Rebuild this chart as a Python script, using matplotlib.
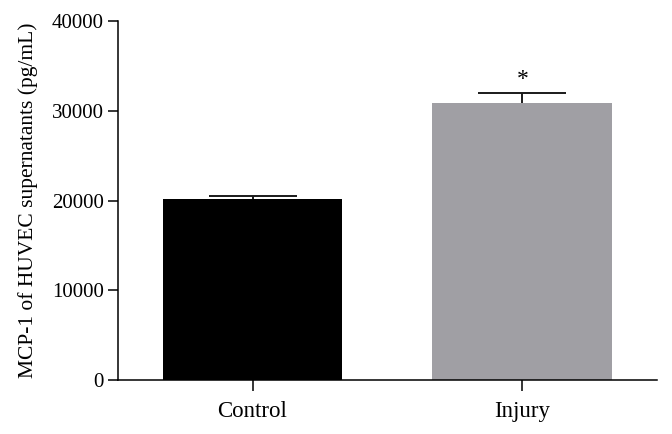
import numpy as np
import matplotlib
matplotlib.use('Agg')
import matplotlib.pyplot as plt

# data
groups = ['Control', 'Injury']
means = [20150, 30850]
errors = [420, 1120]
bar_colors = ['#000000', '#a09fa4']
stars = ['', '*']

plt.rcParams['font.family'] = ['Liberation Serif', 'DejaVu Serif']

fig = plt.figure(figsize=(6.72, 4.34), dpi=100)
ax = fig.add_axes([0.175, 0.124, 0.803, 0.827])

x = np.arange(len(groups))
ax.bar(x, means, width=0.667, color=bar_colors, linewidth=0, zorder=2)

# upper error bars only
eb = ax.errorbar(x, means, yerr=[np.zeros(len(errors)), errors], fmt='none',
                 ecolor='#1a1a1a', elinewidth=1.4, capsize=32, capthick=1.4, zorder=1)
eb[1][0].set_visible(False)  # hide lower caps

for xi, m, e, s in zip(x, means, errors, stars):
    if s:
        ax.text(xi, m + e + 1500, s, ha='center', va='center', fontsize=17)

ax.set_xlim(-0.5, 1.5)
ax.set_ylim(0, 40000)
ax.set_yticks([0, 10000, 20000, 30000, 40000])
ax.set_xticks(x)
ax.set_xticklabels(groups)
ax.set_ylabel('MCP-1 of HUVEC supernatants (pg/mL)', fontsize=15.5, labelpad=10)

ax.spines['top'].set_visible(False)
ax.spines['right'].set_visible(False)
ax.spines['left'].set_linewidth(1.1)
ax.spines['bottom'].set_linewidth(1.1)
ax.tick_params(axis='y', length=7, width=1.1, labelsize=15, pad=3)
ax.tick_params(axis='x', length=8, width=1.1, labelsize=16.5, pad=7)

fig.savefig('out.png', dpi=100)
